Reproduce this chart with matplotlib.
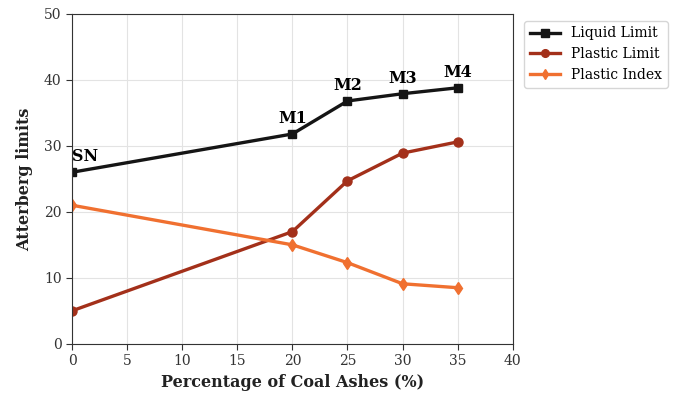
import numpy as np
import matplotlib.pyplot as plt

plt.rcParams['font.family'] = ['DejaVu Serif']

coal_ash = [0, 20, 25, 30, 35]
mix_labels = ['SN', 'M1', 'M2', 'M3', 'M4']
liquid_limit = [26.0, 31.8, 36.8, 37.9, 38.8]
plastic_limit = [5.0, 17.0, 24.7, 28.9, 30.6]
plastic_index = [21.0, 15.0, 12.3, 9.1, 8.5]

fig = plt.figure(figsize=(6.8, 3.97), dpi=100)
ax = fig.add_axes([0.106, 0.134, 0.648, 0.831])

ax.plot(coal_ash, liquid_limit, color='#151515', marker='s', ms=6, lw=2.4, label='Liquid Limit')
ax.plot(coal_ash, plastic_limit, color='#a3301a', marker='o', ms=6.5, lw=2.4, label='Plastic Limit')
ax.plot(coal_ash, plastic_index, color='#f07030', marker='d', ms=6.5, lw=2.4, label='Plastic Index')

for x, y, t in zip(coal_ash, liquid_limit, mix_labels):
    ax.annotate(t, (x, y), xytext=(0 if x else 0, 5), textcoords='offset points',
                ha='center' if x else 'left', va='bottom', fontsize=11.5, fontweight='bold')

ax.set_xlim(0, 40)
ax.set_ylim(0, 50)
ax.set_xticks(np.arange(0, 41, 5))
ax.set_yticks(np.arange(0, 51, 10))
ax.grid(True, color='#e3e3e3', lw=0.8)
ax.set_axisbelow(True)
ax.tick_params(labelsize=10, colors='#333333', length=4)
for s in ax.spines.values():
    s.set_color('#333333')
ax.set_xlabel('Percentage of Coal Ashes (%)', fontsize=11.5, fontweight='bold', color='#222222')
ax.set_ylabel('Atterberg limits', fontsize=11.5, fontweight='bold', color='#222222', labelpad=8)

ax.legend(loc='upper left', bbox_to_anchor=(1.01, 1.0), fontsize=10, frameon=True,
          edgecolor='#cccccc', handlelength=2.2, markerscale=0.85)

fig.savefig('out.png', dpi=100)
